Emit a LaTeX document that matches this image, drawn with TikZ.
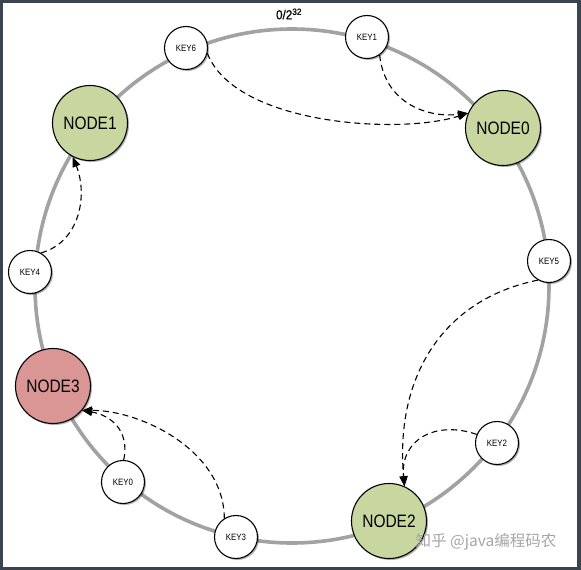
\documentclass[tikz,border=0pt]{standalone}
\usepackage{fontspec}
\setmainfont[FakeStretch=0.86]{Liberation Sans}
\newfontfamily\labelfont[FakeStretch=0.9,FakeBold=0.6]{Liberation Sans}
\newfontfamily\cjkfont{Noto Sans CJK SC}
\usetikzlibrary{arrows.meta,shadows}
\definecolor{framecol}{HTML}{3A4450}
\definecolor{ringcol}{HTML}{A2A2A2}
\definecolor{nodegreen}{HTML}{C8D6A0}
\definecolor{nodered}{HTML}{D99694}
\tikzset{
  ring/.style={draw=ringcol, line width=3.6pt},
  bignode/.style={circle, draw=black, line width=1.1pt, minimum size=75pt, inner sep=0pt,
    font=\fontsize{18}{20}\selectfont,
    drop shadow={shadow xshift=1.5pt, shadow yshift=-1.5pt, opacity=0.3, fill=black}},
  greennode/.style={bignode, fill=nodegreen},
  rednode/.style={bignode, fill=nodered},
  keynode/.style={circle, draw=black, line width=1.1pt, fill=white, minimum size=43pt, inner sep=0pt,
    font=\fontsize{9.2}{11}\selectfont,
    drop shadow={shadow xshift=1.5pt, shadow yshift=-1.5pt, opacity=0.3, fill=black}},
  link/.style={draw=black, line width=1.1pt, dash pattern=on 6pt off 4pt,
    -{Triangle[length=10pt,width=8pt]}},
}
\begin{document}
\begin{tikzpicture}[x=1pt,y=-1pt]
\useasboundingbox (0,0) rectangle (581,570);
\fill[framecol] (0,0) rectangle (581,570);
\fill[white] (3,3) rectangle (577,567);

\draw[ring] (292,286) circle (257);
\node[font=\labelfont\fontsize{13}{15}\selectfont] (label) at (289,14) {0/2\textsuperscript{32}};

\node[greennode] (node1) at (90,123) {NODE1};
\node[greennode] (node0) at (503,128) {NODE0};
\node[greennode] (node2) at (389,521) {NODE2};
\node[rednode]   (node3) at (53,386) {NODE3};

\node[keynode] (key6) at (186,48) {KEY6};
\node[keynode] (key1) at (367,37) {KEY1};
\node[keynode] (key4) at (30,272) {KEY4};
\node[keynode] (key5) at (549,261) {KEY5};
\node[keynode] (key2) at (497,443) {KEY2};
\node[keynode] (key0) at (123,482) {KEY0};
\node[keynode] (key3) at (236,537) {KEY3};

\draw[link] (key6.-14) .. controls (235,125) and (400,135) .. (node0.157);
\draw[link] (key1.-55) .. controls (385,105) and (430,118) .. (node0.157);
\draw[link] (key4.60) .. controls (80,242) and (88,195) .. (node1.-117);
\draw[link] (key5.-120) .. controls (440,300) and (395,380) .. (node2.66);
\draw[link] (key2.157) .. controls (435,420) and (400,440) .. (node2.66);
\draw[link] (key0.88) .. controls (130,430) and (110,415) .. (node3.-40);
\draw[link] (key3.122) .. controls (224,450) and (140,410) .. (node3.-40);

\node[text=black!35, font=\cjkfont\fontsize{15.5}{17}\selectfont] (wm) at (486,542) {知乎 @java编程码农};
\end{tikzpicture}
\end{document}
